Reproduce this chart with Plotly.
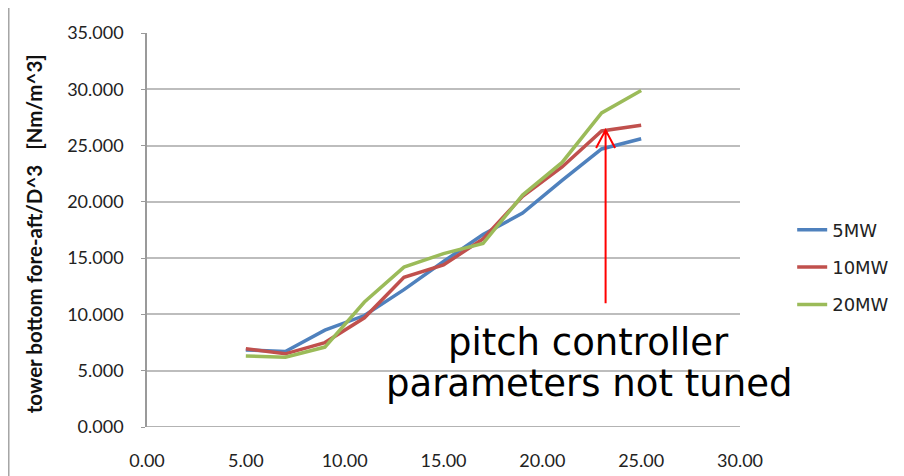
import plotly.graph_objects as go

wind_speed = [5, 7, 9, 11, 13, 15, 17, 19, 21, 23, 25]
mw5 = [6.85, 6.7, 8.6, 9.9, 12.2, 14.7, 17.1, 19.0, 21.9, 24.7, 25.6]
mw10 = [6.95, 6.5, 7.5, 9.7, 13.3, 14.4, 16.7, 20.5, 23.1, 26.3, 26.8]
mw20 = [6.3, 6.2, 7.1, 11.1, 14.2, 15.4, 16.3, 20.6, 23.5, 27.9, 29.9]
series_names = ["5MW", "10MW", "20MW"]
colors = ["#4F81BD", "#C0504D", "#9BBB59"]

fig = go.Figure()
for name, vals, c in zip(series_names, [mw5, mw10, mw20], colors):
    fig.add_trace(go.Scatter(x=wind_speed, y=vals, mode="lines", name=name,
                             line=dict(color=c, width=3.5), legendgroup=name))

axis_font = dict(family="Lato", size=18, color="#222222")
fig.update_layout(
    width=904, height=476,
    margin=dict(l=139, r=172, t=25, b=57),
    paper_bgcolor="white", plot_bgcolor="white",
    showlegend=True,
    legend=dict(x=1.088, xanchor="left", y=0.405, yanchor="middle",
                font=dict(family="DejaVu Sans", size=18, color="#222222"),
                tracegroupgap=11, bgcolor="rgba(0,0,0,0)"),
    xaxis=dict(range=[0, 30], dtick=5, tick0=0, tickformat=".2f",
               showgrid=False, zeroline=False, showline=False,
               ticks="", tickfont=axis_font, ticklabelstandoff=21),
    yaxis=dict(range=[0, 35], dtick=5, tick0=0, tickformat=".3f",
               showgrid=True, gridcolor="#BDBDBD", gridwidth=1.6,
               zeroline=False, showline=True, linecolor="#9A9A9A", linewidth=1.6,
               ticks="outside", ticklen=4, tickcolor="#9A9A9A",
               tickfont=axis_font, ticklabelstandoff=14),
)

# bottom axis line (x axis)
fig.add_shape(type="line", xref="paper", yref="y", x0=0, x1=1, y0=0, y1=0,
              line=dict(color="#9A9A9A", width=1.6))

# outer frame (left edge) of the chart area
fig.add_shape(type="line", xref="paper", yref="paper", x0=-0.2335, x1=-0.2335,
              y0=-0.2, y1=1.1, line=dict(color="#A6A6A6", width=2))

# red arrow
fig.add_shape(type="path", xref="x", yref="y",
              path="M 23.2,11.0 L 23.2,26.38 M 22.72,24.78 L 23.2,26.38 L 23.68,24.78",
              line=dict(color="#FF0000", width=2))

# y axis title
fig.add_annotation(xref="paper", yref="paper", x=-0.19, y=0.49,
                   xanchor="center", yanchor="middle",
                   text="<b>tower bottom fore-aft/D^3   [Nm/m^3]</b>",
                   textangle=-90, showarrow=False,
                   font=dict(family="Lato", size=20.5, color="#111111"))

# annotation text
fig.add_annotation(xref="x", yref="y", x=22.36, y=7.55, text="pitch controller",
                   showarrow=False, font=dict(family="DejaVu Sans", size=37, color="black"))
fig.add_annotation(xref="x", yref="y", x=22.36, y=3.9, text="parameters not tuned",
                   showarrow=False, font=dict(family="DejaVu Sans", size=37, color="black"))

fig.write_html("out.html")
